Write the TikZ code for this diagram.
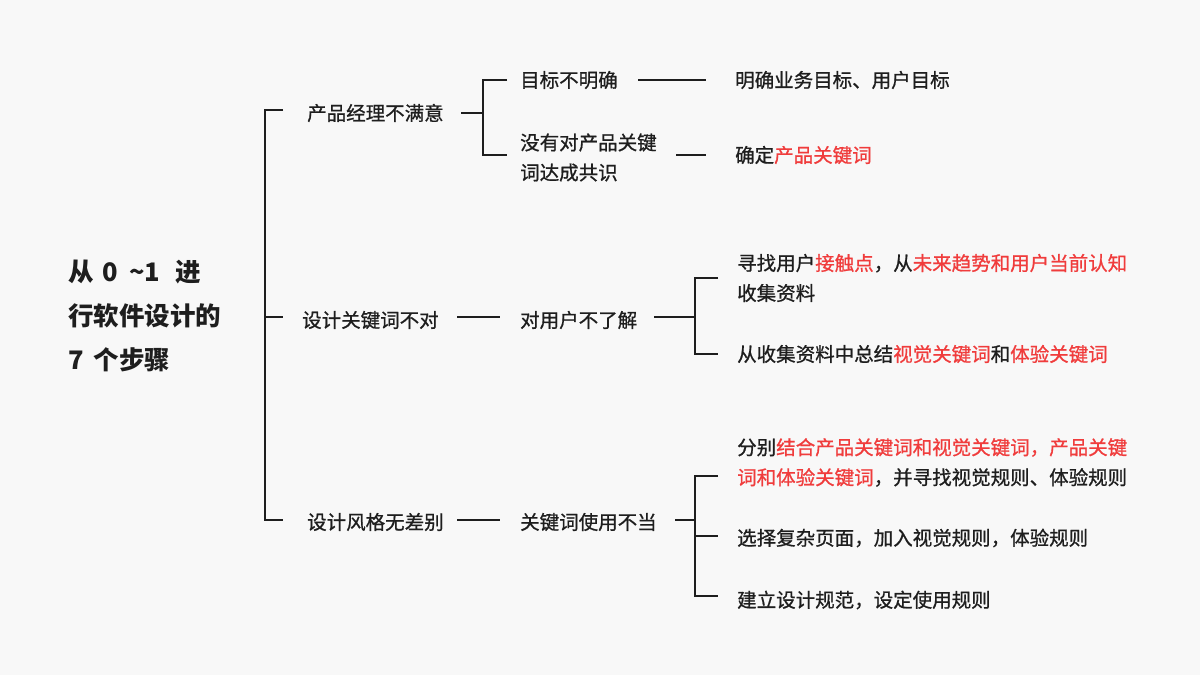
\documentclass[tikz,border=0pt]{standalone}
\usepackage{fontspec}
\setmainfont{Noto Sans CJK SC}
\newfontfamily\lblfont{Noto Sans CJK SC}[FakeBold=0.9]
\definecolor{bg}{HTML}{F8F8F8}
\definecolor{ink}{HTML}{1E1E1E}
\definecolor{hot}{HTML}{F03C3C}
\newcommand{\hl}[1]{\textcolor{hot}{#1}}
\begin{document}
\begin{tikzpicture}[x=1pt,y=-1pt,
  lbl/.style={anchor=west,inner sep=0pt,text=ink,font=\lblfont\fontsize{19.5}{30}\selectfont,align=left},
  ttl/.style={anchor=west,inner sep=0pt,text=ink,font=\fontsize{25.5}{44}\selectfont\bfseries,align=left},
  wire/.style={draw=ink,line width=2pt}]
\fill[bg] (0,0) rectangle (1200,675);
\useasboundingbox (0,0) rectangle (1200,675);
% title
\node[ttl] (title) at (68,316) {从\hspace{9pt}0\hspace{11pt}\string~1\hspace{15pt}进\\行软件设计的\\7\hspace{10pt}个步骤};
% level 1
\node[lbl] (a) at (307,113) {产品经理不满意};
\node[lbl] (b) at (302,320) {设计关键词不对};
\node[lbl] (c) at (307,522) {设计风格无差别};
% level 2
\node[lbl] (a1) at (520,80) {目标不明确};
\node[lbl] (a2) at (520,157.5) {没有对产品关键\\词达成共识};
\node[lbl] (b1) at (520,320) {对用户不了解};
\node[lbl] (c1) at (520,522) {关键词使用不当};
% level 3
\node[lbl] (a1x) at (735,80) {明确业务目标、用户目标};
\node[lbl] (a2x) at (735,155) {确定\hl{产品关键词}};
\node[lbl] (b1x) at (737,278) {寻找用户\hl{接触点}，从\hl{未来趋势和用户当前认知}\\收集资料};
\node[lbl] (b1y) at (737,354) {从收集资料中总结\hl{视觉关键词}和\hl{体验关键词}};
\node[lbl] (c1x) at (737,462.5) {分别\hl{结合产品关键词和视觉关键词，产品关键}\\\hl{词和体验关键词}，并寻找视觉规则、体验规则};
\node[lbl] (c1y) at (737,538) {选择复杂页面，加入视觉规则，体验规则};
\node[lbl] (c1z) at (737,600) {建立设计规范，设定使用规则};
% main bracket
\coordinate (m1) at (265,110);
\coordinate (m2) at (265,317);
\coordinate (m3) at (265,520);
\draw[wire] ([xshift=18pt]m1) -- (m1) -- (m3) -- ([xshift=18pt]m3);
\draw[wire] (m2) -- ([xshift=18pt]m2);
% a bracket
\coordinate (ja) at (483,113);
\draw[wire] (461,113) -- (ja);
\draw[wire] (507,80) -- (483,80) -- (483,155) -- (507,155);
\draw[wire] (638,80) -- (706,80);
\draw[wire] (676,155) -- (706,155);
% b
\draw[wire] (457,317) -- (500,317);
\coordinate (jb) at (695,317);
\draw[wire] (654,317) -- (jb);
\draw[wire] (718,278) -- (695,278) -- (695,354) -- (718,354);
% c
\draw[wire] (457,520) -- (500,520);
\coordinate (jc) at (695,520);
\draw[wire] (675,520) -- (jc);
\draw[wire] (718,476) -- (695,476) -- (695,596) -- (718,596);
\draw[wire] (695,536) -- (718,536);
\end{tikzpicture}
\end{document}
